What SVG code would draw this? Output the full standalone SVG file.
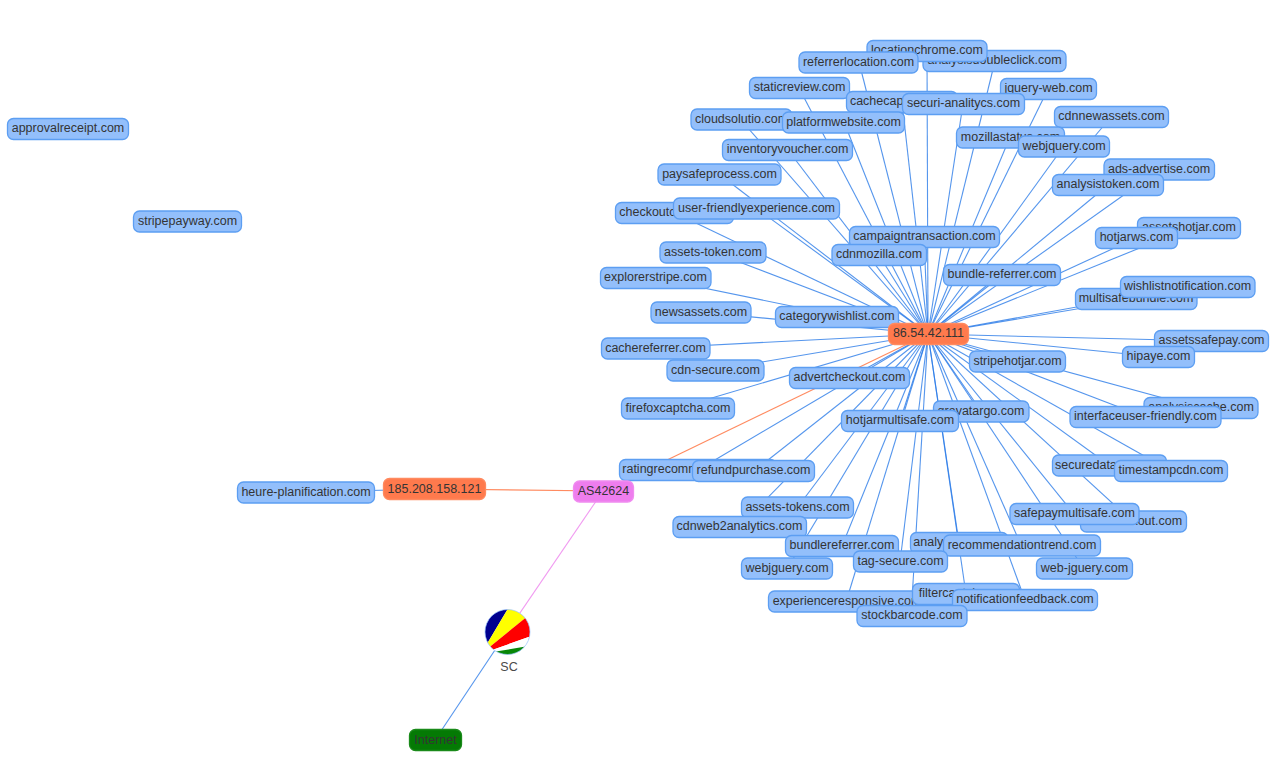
<svg xmlns="http://www.w3.org/2000/svg" width="1280" height="780" viewBox="0 0 1280 780">
<style>
text{font-family:"Liberation Sans",Arial,sans-serif;font-size:12.5px;fill:#343434;text-anchor:middle;dominant-baseline:central;transform:translateY(-.7px)}
rect{rx:6px;ry:6px;stroke-width:1.3}
.d rect{fill:#93BFFB;stroke:#5C9EF2}
.ip rect{fill:#FF7A4D;stroke:#FF8A60}
.as rect{fill:#EE7DEE;stroke:#F08CF0}
.net rect{fill:#047A04;stroke:#1A8A1A}
.e line{stroke:#2B7CE9;stroke-width:1.1;opacity:.8}
.e .o{stroke:#FF7F50;opacity:.9}
.e .v{stroke:#EE82EE}
</style>
<defs><clipPath id="fc"><circle cx="507.5" cy="632" r="22.5"/></clipPath></defs>
<rect width="1280" height="780" style="fill:#fff;stroke:none;rx:0;ry:0"/>
<g id="connectors" class="e">
<line class="o" x1="434" y1="489" x2="603" y2="491"/>
<line class="o" x1="928" y1="334" x2="603" y2="491"/>
<line class="v" x1="603" y1="491" x2="507" y2="632"/>
<line x1="507" y1="632" x2="435" y2="740"/>
<line x1="306" y1="492" x2="434" y2="489"/>
<g>
<line x1="928" y1="334" x2="927" y2="51"/><line x1="928" y1="334" x2="859" y2="62"/><line x1="928" y1="334" x2="995" y2="61"/><line x1="928" y1="334" x2="799" y2="88"/><line x1="928" y1="334" x2="902" y2="102"/><line x1="928" y1="334" x2="963" y2="104"/><line x1="928" y1="334" x2="1048" y2="89"/><line x1="928" y1="334" x2="741" y2="120"/><line x1="928" y1="334" x2="844" y2="122"/><line x1="928" y1="334" x2="1010" y2="137"/><line x1="928" y1="334" x2="1111" y2="117"/><line x1="928" y1="334" x2="1064" y2="146"/><line x1="928" y1="334" x2="788" y2="150"/><line x1="928" y1="334" x2="719" y2="174"/><line x1="928" y1="334" x2="1159" y2="170"/><line x1="928" y1="334" x2="1108" y2="185"/><line x1="928" y1="334" x2="675" y2="213"/><line x1="928" y1="334" x2="756" y2="208"/><line x1="928" y1="334" x2="1189" y2="228"/><line x1="928" y1="334" x2="1136" y2="238"/><line x1="928" y1="334" x2="924" y2="237"/><line x1="928" y1="334" x2="879" y2="255"/><line x1="928" y1="334" x2="713" y2="252"/><line x1="928" y1="334" x2="655" y2="278"/><line x1="928" y1="334" x2="1002" y2="275"/><line x1="928" y1="334" x2="1187" y2="287"/><line x1="928" y1="334" x2="1136" y2="299"/><line x1="928" y1="334" x2="701" y2="312"/><line x1="928" y1="334" x2="837" y2="317"/><line x1="928" y1="334" x2="1211" y2="341"/><line x1="928" y1="334" x2="1158" y2="357"/><line x1="928" y1="334" x2="655" y2="348"/><line x1="928" y1="334" x2="715" y2="370"/><line x1="928" y1="334" x2="1017" y2="362"/><line x1="928" y1="334" x2="849" y2="378"/><line x1="928" y1="334" x2="678" y2="408"/><line x1="928" y1="334" x2="1200" y2="408"/><line x1="928" y1="334" x2="1145" y2="417"/><line x1="928" y1="334" x2="981" y2="411"/><line x1="928" y1="334" x2="900" y2="421"/><line x1="928" y1="334" x2="1109" y2="465"/><line x1="928" y1="334" x2="1171" y2="471"/><line x1="928" y1="334" x2="698" y2="470"/><line x1="928" y1="334" x2="754" y2="471"/><line x1="928" y1="334" x2="797" y2="508"/><line x1="928" y1="334" x2="1074" y2="514"/><line x1="928" y1="334" x2="1133" y2="522"/><line x1="928" y1="334" x2="739" y2="527"/><line x1="928" y1="334" x2="842" y2="546"/><line x1="928" y1="334" x2="959" y2="543"/><line x1="928" y1="334" x2="1021" y2="545"/><line x1="928" y1="334" x2="900" y2="562"/><line x1="928" y1="334" x2="787" y2="569"/><line x1="928" y1="334" x2="1084" y2="569"/><line x1="928" y1="334" x2="966" y2="594"/><line x1="928" y1="334" x2="846" y2="602"/><line x1="928" y1="334" x2="1025" y2="600"/><line x1="928" y1="334" x2="911" y2="616"/>
</g>
</g>
<g id="approvalreceipt" class="d"><rect x="7.5" y="118.5" width="121" height="21"/><text x="68" y="129">approvalreceipt.com</text></g>
<g id="stripepayway" class="d"><rect x="133.5" y="211" width="108" height="21"/><text x="187.5" y="221.5">stripepayway.com</text></g>
<g id="analysisdoubleclick" class="d"><rect x="923" y="50.5" width="143" height="21"/><text x="994.5" y="61">analysisdoubleclick.com</text></g>
<g id="locationchrome" class="d"><rect x="867" y="40.5" width="120" height="21"/><text x="927" y="51">locationchrome.com</text></g>
<g id="referrerlocation" class="d"><rect x="799" y="52" width="119" height="21"/><text x="858.5" y="62.5">referrerlocation.com</text></g>
<g id="staticreview" class="d"><rect x="749.5" y="77.5" width="100" height="21"/><text x="799.5" y="88">staticreview.com</text></g>
<g id="jquery-web" class="d"><rect x="1000.5" y="78.5" width="96" height="21"/><text x="1048.5" y="89">jquery-web.com</text></g>
<g id="cachecaptcha" class="d"><rect x="846.5" y="91.5" width="111" height="21"/><text x="902" y="102">cachecaptcha.com</text></g>
<g id="securi-analitycs" class="d"><rect x="902.5" y="93.5" width="122" height="21"/><text x="963.5" y="104">securi-analitycs.com</text></g>
<g id="cdnnewassets" class="d"><rect x="1054.5" y="106.5" width="114" height="21"/><text x="1111.5" y="117">cdnnewassets.com</text></g>
<g id="cloudsolutio" class="d"><rect x="691" y="109" width="101" height="21"/><text x="741.5" y="119.5">cloudsolutio.com</text></g>
<g id="platformwebsite" class="d"><rect x="782.5" y="112" width="122" height="21"/><text x="843.5" y="122.5">platformwebsite.com</text></g>
<g id="mozillastatus" class="d"><rect x="956.5" y="127" width="108" height="21"/><text x="1010.5" y="137.5">mozillastatus.com</text></g>
<g id="webjquery" class="d"><rect x="1018.5" y="136" width="91" height="21"/><text x="1064" y="146.5">webjquery.com</text></g>
<g id="inventoryvoucher" class="d"><rect x="722.5" y="139.5" width="130" height="21"/><text x="787.5" y="150">inventoryvoucher.com</text></g>
<g id="ads-advertise" class="d"><rect x="1104" y="159" width="110.5" height="21"/><text x="1159" y="169.5">ads-advertise.com</text></g>
<g id="paysafeprocess" class="d"><rect x="658" y="164" width="123" height="21"/><text x="719.5" y="174.5">paysafeprocess.com</text></g>
<g id="analysistoken" class="d"><rect x="1052.5" y="174.5" width="111" height="21"/><text x="1108" y="185">analysistoken.com</text></g>
<g id="checkoutcache" class="d"><rect x="615.5" y="202.5" width="118" height="21"/><text x="674.5" y="213">checkoutcache.com</text></g>
<g id="user-friendlyexperience" class="d"><rect x="673.5" y="198" width="166" height="21"/><text x="756.5" y="208.5">user-friendlyexperience.com</text></g>
<g id="assetshotjar" class="d"><rect x="1137.5" y="217.5" width="103" height="21"/><text x="1189" y="228">assetshotjar.com</text></g>
<g id="hotjarws" class="d"><rect x="1095.5" y="227.5" width="82" height="21"/><text x="1136.5" y="238">hotjarws.com</text></g>
<g id="campaigntransaction" class="d"><rect x="849.5" y="226.5" width="150" height="21"/><text x="924.5" y="237">campaigntransaction.com</text></g>
<g id="assets-token" class="d"><rect x="660" y="242" width="106" height="21"/><text x="713" y="252.5">assets-token.com</text></g>
<g id="cdnmozilla" class="d"><rect x="832" y="244.5" width="94.5" height="21"/><text x="879" y="255">cdnmozilla.com</text></g>
<g id="bundle-referrer" class="d"><rect x="943.5" y="264.5" width="117" height="21"/><text x="1002" y="275">bundle-referrer.com</text></g>
<g id="explorerstripe" class="d"><rect x="600.5" y="267.5" width="110.5" height="21"/><text x="655.5" y="278">explorerstripe.com</text></g>
<g id="multisafebundle" class="d"><rect x="1075.5" y="288.5" width="121.5" height="21"/><text x="1136" y="299">multisafebundle.com</text></g>
<g id="wishlistnotification" class="d"><rect x="1120.5" y="276.5" width="134.5" height="21"/><text x="1187.5" y="287">wishlistnotification.com</text></g>
<g id="newsassets" class="d"><rect x="651" y="302" width="100" height="21"/><text x="701" y="312.5">newsassets.com</text></g>
<g id="categorywishlist" class="d"><rect x="775.5" y="306.5" width="123" height="21"/><text x="837" y="317">categorywishlist.com</text></g>
<g id="ip-86-54-42-111" class="ip"><rect x="888.5" y="323.5" width="80" height="21"/><text x="928.5" y="334">86.54.42.111</text></g>
<g id="assetssafepay" class="d"><rect x="1154.5" y="330.5" width="114" height="21"/><text x="1211.5" y="341">assetssafepay.com</text></g>
<g id="hipaye" class="d"><rect x="1122.5" y="346.5" width="72" height="21"/><text x="1158.5" y="357">hipaye.com</text></g>
<g id="cachereferrer" class="d"><rect x="601.5" y="338" width="108.5" height="21"/><text x="655.5" y="348.5">cachereferrer.com</text></g>
<g id="stripehotjar" class="d"><rect x="969.5" y="351" width="96" height="21"/><text x="1017.5" y="361.5">stripehotjar.com</text></g>
<g id="cdn-secure" class="d"><rect x="667" y="360" width="97" height="21"/><text x="715.5" y="370.5">cdn-secure.com</text></g>
<g id="advertcheckout" class="d"><rect x="789.5" y="367.5" width="120" height="21"/><text x="849.5" y="378">advertcheckout.com</text></g>
<g id="analysiscache" class="d"><rect x="1144" y="397.5" width="114" height="21"/><text x="1201" y="408">analysiscache.com</text></g>
<g id="firefoxcaptcha" class="d"><rect x="621.5" y="398" width="113" height="21"/><text x="678" y="408.5">firefoxcaptcha.com</text></g>
<g id="interfaceuser-friendly" class="d"><rect x="1070" y="406.5" width="151" height="21"/><text x="1145.5" y="417">interfaceuser-friendly.com</text></g>
<g id="gravatargo" class="d"><rect x="933.5" y="401" width="95.5" height="21"/><text x="981" y="411.5">gravatargo.com</text></g>
<g id="hotjarmultisafe" class="d"><rect x="841.5" y="410.5" width="117" height="21"/><text x="900" y="421">hotjarmultisafe.com</text></g>
<g id="securedatacdn" class="d"><rect x="1052.5" y="455" width="114" height="21"/><text x="1109.5" y="465.5">securedatacdn.com</text></g>
<g id="timestampcdn" class="d"><rect x="1114.5" y="460.5" width="113" height="21"/><text x="1171" y="471">timestampcdn.com</text></g>
<g id="ratingrecommendation" class="d"><rect x="619.5" y="459.5" width="157" height="21"/><text x="698" y="470">ratingrecommendation.com</text></g>
<g id="refundpurchase" class="d"><rect x="692.5" y="460.5" width="122" height="21"/><text x="753.5" y="471">refundpurchase.com</text></g>
<g id="AS42624" class="as"><rect x="573.5" y="481" width="60" height="21"/><text x="603.5" y="491.5">AS42624</text></g>
<g id="ip-185-208-158-121" class="ip"><rect x="383.5" y="478.500" width="102" height="21"/><text x="434.5" y="489.5">185.208.158.121</text></g>
<g id="heure-planification" class="d"><rect x="237.5" y="482" width="137" height="21"/><text x="306" y="492.5">heure-planification.com</text></g>
<g id="assets-tokens" class="d"><rect x="741.5" y="497" width="112" height="21"/><text x="797.5" y="507.5">assets-tokens.com</text></g>
<g id="cdncheckout" class="d"><rect x="1080.5" y="511" width="106" height="21"/><text x="1133.5" y="521.5">cdncheckout.com</text></g>
<g id="safepaymultisafe" class="d"><rect x="1010" y="503.5" width="129" height="21"/><text x="1074.5" y="514">safepaymultisafe.com</text></g>
<g id="cdnweb2analytics" class="d"><rect x="673" y="516.5" width="133.5" height="21"/><text x="739.5" y="527">cdnweb2analytics.com</text></g>
<g id="bundlereferrer" class="d"><rect x="785.5" y="535.5" width="113" height="21"/><text x="842" y="546">bundlereferrer.com</text></g>
<g id="analysiscdn" class="d"><rect x="910.5" y="532.5" width="97.5" height="21"/><text x="959.5" y="543">analysiscdn.com</text></g>
<g id="recommendationtrend" class="d"><rect x="943.5" y="535" width="157" height="21"/><text x="1022" y="545.5">recommendationtrend.com</text></g>
<g id="tag-secure" class="d"><rect x="853.5" y="551" width="94" height="21"/><text x="900.5" y="561.5">tag-secure.com</text></g>
<g id="webjguery" class="d"><rect x="741.5" y="558" width="91" height="21"/><text x="787" y="568.5">webjguery.com</text></g>
<g id="web-jguery" class="d"><rect x="1036.5" y="558" width="96" height="21"/><text x="1084.5" y="568.5">web-jguery.com</text></g>
<g id="experienceresponsive" class="d"><rect x="768.5" y="591" width="157" height="21"/><text x="847" y="601.5">experienceresponsive.com</text></g>
<g id="filtercaptcha" class="d"><rect x="912.5" y="583.5" width="107" height="21"/><text x="966" y="594">filtercaptcha.com</text></g>
<g id="notificationfeedback" class="d"><rect x="952.5" y="589.5" width="145" height="21"/><text x="1025" y="600">notificationfeedback.com</text></g>
<g id="stockbarcode" class="d"><rect x="857" y="605.5" width="110" height="21"/><text x="912" y="616">stockbarcode.com</text></g>
<g id="SC">
<g clip-path="url(#fc)">
<rect x="480" y="605" width="60" height="60" style="fill:#fff;stroke:none;rx:0;ry:0"/>
<polygon points="481,654 510.1,605 475,605 475,655" fill="#00008f"/>
<polygon points="481,654 510.1,605 535,605 535,610.1" fill="#ffff00"/>
<polygon points="481,654 535,610.1 535,634.7" fill="#ff0000"/>
<polygon points="481,654 535,634.7 535,645" fill="#ffffff"/>
<polygon points="481,654 535,645 535,660 480,660" fill="#078707"/>
</g>
<circle cx="507.5" cy="632" r="22.5" fill="none" stroke="#97C2FC" stroke-width="0.7"/>
<text x="509" y="668" style="fill:#4a4a4a">SC</text>
</g>
<g id="Internet" class="net"><rect x="409.5" y="729.5" width="52" height="21"/><text x="435.5" y="740.5">Internet</text></g>
</svg>
